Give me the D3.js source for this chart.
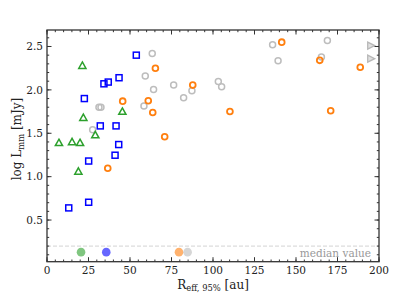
<!DOCTYPE html>
<html><head><meta charset="utf-8">
<script src="https://cdn.jsdelivr.net/npm/d3@7"></script>
<style>body{margin:0;background:#fff}</style>
</head><body>
<svg id="c" width="399" height="299"></svg>
<script>
// data: [R_eff (au), log L_mm]
const greenTri = [[21.3,2.28],[21.9,1.68],[45.4,1.75],[29.1,1.48],[7.2,1.39],[15.1,1.40],[19.9,1.39],[18.9,1.06]];
const blueSq = [[53.8,2.40],[34.3,2.07],[36.9,2.09],[43.4,2.14],[22.5,1.90],[32.1,1.585],[41.6,1.585],[43.2,1.37],[25.1,1.18],[41.0,1.247],[25.1,0.705],[13.1,0.64]];
const orangeCirc = [[65.3,2.25],[87.8,2.055],[45.6,1.87],[61.0,1.875],[63.7,1.74],[70.9,1.46],[36.6,1.097],[141.4,2.55],[164.3,2.34],[188.7,2.26],[110.2,1.75],[170.9,1.76]];
const grayCirc = [[63.4,2.42],[59.2,2.16],[64.2,2.005],[76.3,2.055],[82.3,1.91],[87.3,1.99],[58.4,1.815],[31.3,1.80],[32.5,1.80],[27.5,1.54],[135.9,2.52],[168.9,2.57],[139.2,2.335],[165.3,2.38],[103.2,2.096],[105.2,2.035]];
const grayOut = [[195,2.51],[195,2.36]];
const medians = [{x:20.5,c:"#2ca02c"},{x:35.7,c:"#0000ff"},{x:79.5,c:"#ff7f0e"},{x:84.7,c:"#bbbbbb"}];
const medianLine = 0.2, medianDotY = 0.13;
const xTicks = [0,25,50,75,100,125,150,175,200];
const yTicks = [0.5,1.0,1.5,2.0,2.5];

const W=399,H=299, m={l:47,r:20,t:30,b:37.3};
const svg=d3.select("#c");
const x=d3.scaleLinear().domain([0,200]).range([m.l,W-m.r]);
const y=d3.scaleLinear().domain([0.02,2.69]).range([H-m.b,m.t]);
const F="DejaVu Serif";
const tickCol="#333";

// median line
svg.append("line").attr("x1",x(0)).attr("x2",x(200)).attr("y1",y(medianLine)).attr("y2",y(medianLine))
  .attr("stroke","#c8c8c8").attr("stroke-width",0.8).attr("stroke-dasharray","4,2");
svg.append("text").attr("x",x(200)-8).attr("y",y(medianLine)+10.5).attr("text-anchor","end")
  .attr("font-family",F).attr("font-size",10.5).attr("fill","#999").text("median value");

// median dots
svg.selectAll(".md").data(medians).join("circle").attr("cx",d=>x(d.x)).attr("cy",y(medianDotY))
  .attr("r",4.3).attr("fill",d=>d.c).attr("opacity",0.6);

// points
const g=svg.append("g");
g.selectAll(".gc").data(grayCirc).join("circle").attr("cx",d=>x(d[0])).attr("cy",d=>y(d[1])).attr("r",3)
  .attr("fill","none").attr("stroke","#bdbdbd").attr("stroke-width",1.5);
g.selectAll(".go").data(grayOut).join("path").attr("transform",d=>`translate(${x(d[0])},${y(d[1])})`)
  .attr("d","M-3,-3.5L4,0L-3,3.5Z").attr("fill","#e0e0e0").attr("stroke","#b8b8b8").attr("stroke-width",1.3);
g.selectAll(".oc").data(orangeCirc).join("circle").attr("cx",d=>x(d[0])).attr("cy",d=>y(d[1])).attr("r",2.9)
  .attr("fill","none").attr("stroke","#ff7f0e").attr("stroke-width",1.8);
g.selectAll(".bs").data(blueSq).join("rect").attr("x",d=>x(d[0])-3).attr("y",d=>y(d[1])-3).attr("width",6).attr("height",6)
  .attr("fill","none").attr("stroke","#0000ff").attr("stroke-width",1.5);
g.selectAll(".gt").data(greenTri).join("path").attr("transform",d=>`translate(${x(d[0])},${y(d[1])})`)
  .attr("d","M0,-3.6L3.6,2.8L-3.6,2.8Z").attr("fill","none").attr("stroke","#2ca02c").attr("stroke-width",1.5);

// axes with inward ticks on all sides
const xMinor=d3.range(0,201,5), yMinor=d3.range(0.1,2.69,0.1);
function ticks(scale,vals,len,orient){
  const gg=svg.append("g").attr("stroke",tickCol);
  vals.forEach(v=>{
    if(orient==="b") gg.append("line").attr("x1",scale(v)).attr("x2",scale(v)).attr("y1",H-m.b).attr("y2",H-m.b-len);
    if(orient==="t") gg.append("line").attr("x1",scale(v)).attr("x2",scale(v)).attr("y1",m.t).attr("y2",m.t+len);
    if(orient==="l") gg.append("line").attr("y1",scale(v)).attr("y2",scale(v)).attr("x1",m.l).attr("x2",m.l+len);
    if(orient==="r") gg.append("line").attr("y1",scale(v)).attr("y2",scale(v)).attr("x1",W-m.r).attr("x2",W-m.r-len);
  });
  gg.selectAll("line").attr("stroke-width",1);
}
ticks(x,xMinor,2.2,"b");ticks(x,xMinor,2.2,"t");ticks(x,xTicks,4.5,"b");ticks(x,xTicks,4.5,"t");
ticks(y,yMinor,2.2,"l");ticks(y,yMinor,2.2,"r");ticks(y,yTicks,4.5,"l");ticks(y,yTicks,4.5,"r");

svg.append("rect").attr("x",m.l).attr("y",m.t).attr("width",W-m.l-m.r).attr("height",H-m.t-m.b)
  .attr("fill","none").attr("stroke",tickCol).attr("stroke-width",1.3);

svg.selectAll(".xt").data(xTicks).join("text").attr("x",d=>x(d)).attr("y",H-m.b+12).attr("text-anchor","middle")
  .attr("font-family",F).attr("font-size",10.5).attr("fill","#222").text(d=>d);
svg.selectAll(".yt").data(yTicks).join("text").attr("x",m.l-4).attr("y",d=>y(d)+3.8).attr("text-anchor","end")
  .attr("font-family",F).attr("font-size",10.5).attr("fill","#222").text(d=>d.toFixed(1));

// axis labels
const xl=svg.append("text").attr("x",(m.l+W-m.r)/2).attr("y",H-10.5).attr("text-anchor","middle")
  .attr("font-family",F).attr("font-size",12).attr("fill","#222");
xl.append("tspan").text("R");
xl.append("tspan").attr("font-size",8.4).attr("dy",2.5).text("eff, 95%");
xl.append("tspan").attr("dy",-2.5).text(" [au]");
const yl=svg.append("text").attr("transform",`translate(21,139) rotate(-90)`).attr("text-anchor","middle")
  .attr("font-family",F).attr("font-size",12).attr("fill","#222");
yl.append("tspan").text("log L");
yl.append("tspan").attr("font-size",8.4).attr("dy",2.5).text("mm");
yl.append("tspan").attr("dy",-2.5).text(" [mJy]");
</script>
</body></html>
